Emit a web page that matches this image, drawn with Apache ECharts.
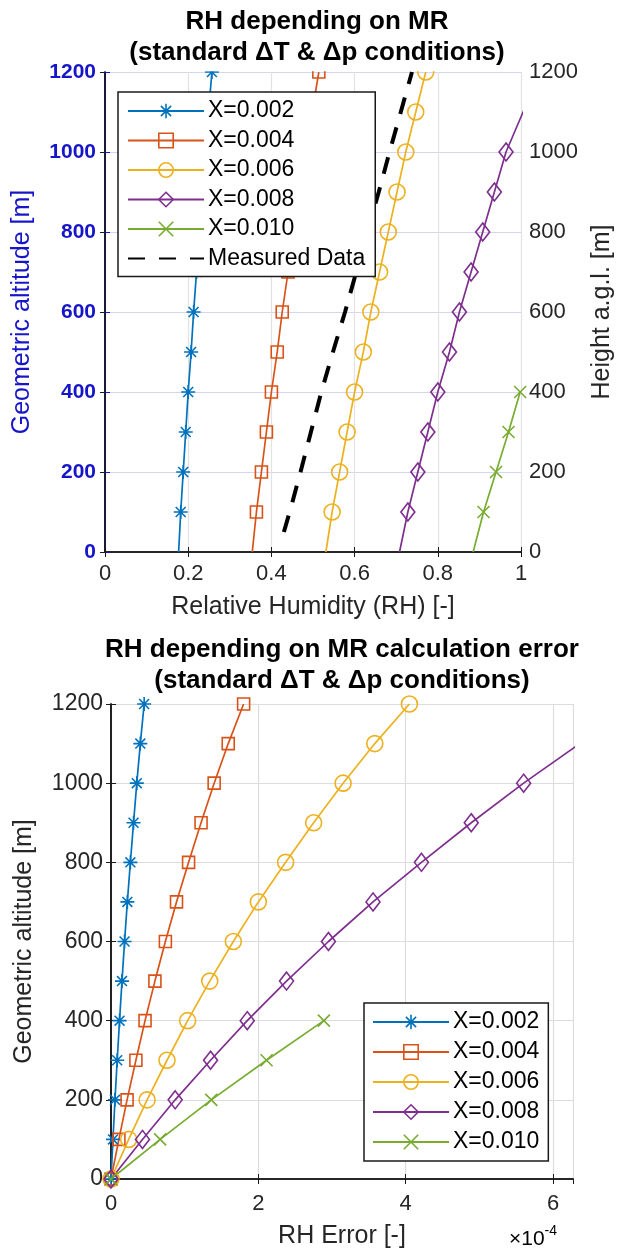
<!DOCTYPE html>
<html>
<head>
<meta charset="utf-8">
<script src="https://cdn.jsdelivr.net/npm/echarts@6/dist/echarts.min.js"></script>
<style>
  html, body { margin: 0; padding: 0; background: #fff; }
  #chart { width: 623px; height: 1253px; }
</style>
</head>
<body>
<div id="chart"></div>
<script>
// ---- data ----------------------------------------------------------------
const seriesNames = ['X=0.002', 'X=0.004', 'X=0.006', 'X=0.008', 'X=0.010'];
const altitudes = [0, 100, 200, 300, 400, 500, 600, 700, 800, 900, 1000, 1100, 1200];
const altitudeTicks = [0, 200, 400, 600, 800, 1000, 1200];
const rhTicks = [0, 0.2, 0.4, 0.6, 0.8, 1];
const errTicks = [0, 2, 4, 6];

// Relative humidity for each mixing ratio (upper panel)
const rh002 = [0.177, 0.182, 0.188, 0.194, 0.200, 0.207, 0.213, 0.220, 0.227, 0.234, 0.241, 0.249, 0.257];
const rh004 = [0.354, 0.364, 0.376, 0.388, 0.400, 0.414, 0.426, 0.440, 0.454, 0.468, 0.482, 0.498, 0.514];
const rh006 = [0.531, 0.546, 0.564, 0.582, 0.600, 0.621, 0.639, 0.660, 0.681, 0.702, 0.723, 0.747, 0.771];
const rh008 = [0.708, 0.728, 0.752, 0.776, 0.800, 0.828, 0.852, 0.880, 0.908, 0.936, 0.964, 1.005, 1.045];
const rh010 = [0.885, 0.910, 0.940, 0.970, 0.998];

// Measured profile
const measuredAltitude = [50, 100, 200, 300, 400, 500, 600, 700, 800, 900, 1000, 1100, 1200];
const measuredRH = [0.430, 0.444, 0.470, 0.495, 0.520, 0.548, 0.577, 0.604, 0.631, 0.658, 0.684, 0.711, 0.738];

// RH calculation error, in units of 1e-4 (lower panel)
const err002 = [0, 0.027, 0.054, 0.084, 0.116, 0.149, 0.184, 0.222, 0.263, 0.306, 0.350, 0.398, 0.450];
const err004 = [0, 0.107, 0.218, 0.338, 0.462, 0.596, 0.738, 0.889, 1.053, 1.222, 1.400, 1.591, 1.800];
const err006 = [0, 0.240, 0.490, 0.760, 1.040, 1.340, 1.660, 2.000, 2.370, 2.750, 3.150, 3.580, 4.050];
const err008 = [0, 0.427, 0.871, 1.351, 1.849, 2.382, 2.951, 3.556, 4.213, 4.889, 5.600, 6.364, 7.200];
const err010 = [0, 0.667, 1.361, 2.111, 2.889];

// ---- styling ---------------------------------------------------------------
const FONT = "'Liberation Sans', Arial, Helvetica, sans-serif";
const colors = ['#0072BD', '#D95319', '#EDB120', '#7E2F8E', '#77AC30'];
const STAR = 'path://M0,-10L0,10M-10,0L10,0M-7.07,-7.07L7.07,7.07M-7.07,7.07L7.07,-7.07';
const XMARK = 'path://M-10,-10L10,10M-10,10L10,-10';
const symbols = [STAR, 'rect', 'circle', 'diamond', XMARK];
const symbolSizes = [14, 12, 16, [14, 18], 12];
const TEXT = '#262626';
const AXIS_BLUE = '#1616c8';

const TOP = { left: 105, top: 72, width: 422, height: 480 };
const BOTTOM = { left: 111, top: 704, width: 462, height: 475 };

function profile(name, idx, xs, grid, skipFirstMarker) {
  return {
    type: 'line',
    name: name,
    xAxisIndex: grid * 2,
    yAxisIndex: grid * 2,
    symbol: symbols[idx],
    symbolSize: symbolSizes[idx],
    showAllSymbol: true,
    clip: true,
    lineStyle: { color: colors[idx], width: 1.7 },
    itemStyle: { color: 'rgba(0,0,0,0)', borderColor: colors[idx], borderWidth: 1.6 },
    emphasis: { disabled: true },
    data: xs.map((x, i) => (skipFirstMarker && i === 0)
      ? { value: [x, altitudes[i]], symbol: 'none' }
      : [x, altitudes[i]])
  };
}

const series = [];
const rhSets = [rh002, rh004, rh006, rh008, rh010];
const errSets = [err002, err004, err006, err008, err010];
rhSets.forEach((xs, i) => series.push(profile(seriesNames[i], i, xs, 0, true)));
series.push({
  type: 'line',
  name: 'Measured Data',
  xAxisIndex: 0,
  yAxisIndex: 0,
  symbol: 'none',
  clip: true,
  lineStyle: { color: '#000', width: 4, type: [17, 14] },
  itemStyle: { color: 'rgba(0,0,0,0)', opacity: 0 },
  emphasis: { disabled: true },
  data: measuredRH.map((x, i) => [x, measuredAltitude[i]])
});
errSets.forEach((xs, i) => series.push(profile(seriesNames[i], i, xs, 1, false)));

const nameStyle = { fontFamily: FONT, fontSize: 25, color: TEXT };
const blackLine = { show: true, lineStyle: { color: '#1a1a1a', width: 1.6 } };
const innerTick = { show: true, inside: true, length: 5, lineStyle: { color: '#1a1a1a', width: 1 } };

function tickSet(values) {
  return (v) => values.some(t => Math.abs(t - v) < 1e-9) ? String(v) : '';
}
function label(size, margin, ticks, extra) {
  return Object.assign({ fontFamily: FONT, fontSize: size, color: TEXT, margin: margin, formatter: tickSet(ticks) }, extra || {});
}
const titleStyle = { fontFamily: FONT, fontSize: 26, fontWeight: 'bold', color: '#000', lineHeight: 31 };

const option = {
  backgroundColor: '#fff',
  animation: false,
  title: [
    {
      text: 'RH depending on MR\n(standard ΔT & Δp conditions)',
      left: 317, top: 6, padding: 0, textAlign: 'center', zlevel: 2, z: 10,
      textStyle: titleStyle
    },
    {
      text: 'RH depending on MR calculation error\n(standard ΔT & Δp conditions)',
      left: 342, top: 634, padding: 0, textAlign: 'center', zlevel: 2, z: 10,
      textStyle: titleStyle
    }
  ],
  legend: [
    {
      orient: 'vertical', left: 118, top: 92,
      padding: [7, 10, 6, 9], itemGap: 5.5, itemWidth: 76, itemHeight: 18,
      backgroundColor: '#fff', borderColor: '#1a1a1a', borderWidth: 1.5,
      selectedMode: false,
      textStyle: { fontFamily: FONT, fontSize: 23, color: '#000', lineHeight: 24, padding: [0, 0, 0, -1] },
      itemStyle: { borderWidth: 1.6 },
      data: seriesNames.concat([{ name: 'Measured Data', itemStyle: { opacity: 0 } }])
    },
    {
      orient: 'vertical', left: 364, top: 1003,
      padding: [7, 9, 7, 8], itemGap: 6, itemWidth: 76, itemHeight: 18,
      backgroundColor: '#fff', borderColor: '#1a1a1a', borderWidth: 1.5,
      selectedMode: false,
      textStyle: { fontFamily: FONT, fontSize: 23, color: '#000', lineHeight: 24, padding: [0, 0, 0, -1] },
      itemStyle: { borderWidth: 1.6 },
      data: seriesNames.slice()
    }
  ],
  grid: [
    Object.assign({ show: false }, TOP),
    Object.assign({ show: false }, BOTTOM)
  ],
  xAxis: [
    {
      type: 'value', gridIndex: 0, position: 'bottom', min: 0, max: 1, interval: 0.2,
      name: 'Relative Humidity (RH) [-]', nameLocation: 'middle', nameGap: 43, nameTextStyle: nameStyle,
      axisLine: blackLine, axisTick: innerTick,
      axisLabel: label(22, 11, rhTicks),
      splitLine: { show: true, lineStyle: { color: '#e2e2e2', width: 1.2 } }
    },
    {
      type: 'value', gridIndex: 0, position: 'top', min: 0, max: 1, interval: 0.2,
      axisLine: blackLine, axisTick: innerTick,
      axisLabel: { show: false }, splitLine: { show: false }
    },
    {
      type: 'value', gridIndex: 1, position: 'bottom', min: 0, max: 6.27, interval: 2,
      name: 'RH Error [-]', nameLocation: 'middle', nameGap: 45, nameTextStyle: nameStyle,
      axisLine: blackLine, axisTick: innerTick,
      axisLabel: label(22, 14, errTicks, { showMaxLabel: false }),
      splitLine: { show: true, lineStyle: { color: '#dcdcdc', width: 1.2 } }
    },
    {
      type: 'value', gridIndex: 1, position: 'top', min: 0, max: 6.27, interval: 2,
      axisLine: blackLine, axisTick: innerTick,
      axisLabel: { show: false }, splitLine: { show: false }
    }
  ],
  yAxis: [
    {
      type: 'value', gridIndex: 0, position: 'left', min: 0, max: 1200, interval: 200,
      name: 'Geometric altitude [m]', nameLocation: 'middle', nameGap: 70, nameRotate: 90,
      nameTextStyle: { fontFamily: FONT, fontSize: 25, color: AXIS_BLUE },
      axisLine: { show: true, lineStyle: { color: AXIS_BLUE, width: 2 } },
      axisTick: { show: true, inside: true, length: 5, lineStyle: { color: AXIS_BLUE, width: 1 } },
      axisLabel: { margin: 9, fontFamily: FONT, fontSize: 21, fontWeight: 'bold', color: AXIS_BLUE, formatter: tickSet(altitudeTicks) },
      splitLine: { show: true, lineStyle: { color: '#d4d4f6', width: 1.2 } }
    },
    {
      type: 'value', gridIndex: 0, position: 'right', min: 0, max: 1200, interval: 200,
      name: 'Height a.g.l. [m]', nameLocation: 'middle', nameGap: 69, nameRotate: 90, nameTextStyle: nameStyle,
      axisLine: blackLine, axisTick: innerTick,
      axisLabel: label(22, 8, altitudeTicks),
      splitLine: { show: false }
    },
    {
      type: 'value', gridIndex: 1, position: 'left', min: 0, max: 1200, interval: 200,
      name: 'Geometric altitude [m]', nameLocation: 'middle', nameGap: 74, nameRotate: 90, nameTextStyle: nameStyle,
      axisLine: blackLine, axisTick: innerTick,
      axisLabel: label(23, 8, altitudeTicks),
      splitLine: { show: true, lineStyle: { color: '#dcdcdc', width: 1.2 } }
    },
    {
      type: 'value', gridIndex: 1, position: 'right', min: 0, max: 1200, interval: 200,
      axisLine: blackLine, axisTick: innerTick,
      axisLabel: { show: false }, splitLine: { show: false }
    }
  ],
  graphic: [
    // upper panel clips its markers at the top frame
    {
      type: 'rect', zlevel: 1, z: 1, silent: true,
      shape: { x: TOP.left - 1, y: TOP.top - 30, width: TOP.width + 2, height: 29.2 },
      style: { fill: '#fff' }
    },
    {
      type: 'text', left: 509, top: 1224, silent: true,
      style: {
        text: '{m|×10}{e|-4}',
        rich: {
          m: { fontFamily: FONT, fontSize: 21, color: TEXT, verticalAlign: 'bottom', lineHeight: 26 },
          e: { fontFamily: FONT, fontSize: 14, color: TEXT, verticalAlign: 'top', lineHeight: 26, padding: [0, 0, 10, 0] }
        }
      }
    }
  ],
  series: series
};

const chart = echarts.init(document.getElementById('chart'), null, { renderer: 'canvas' });
chart.setOption(option);
</script>
</body>
</html>
